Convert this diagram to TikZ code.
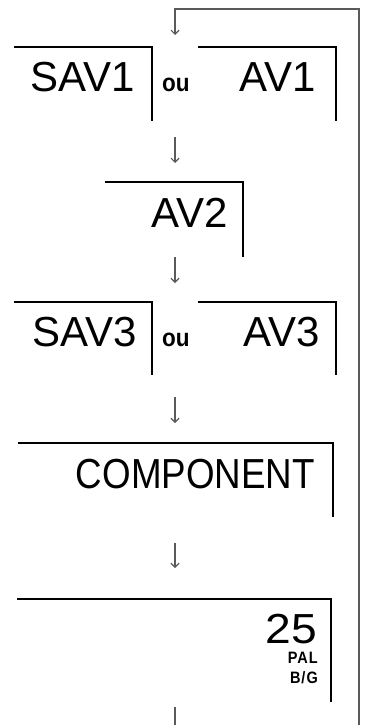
\documentclass[tikz,border=0pt]{standalone}
\usepackage{fontspec}
\setmainfont{Liberation Sans}
\newfontfamily\dispfont{Liberation Sans}
\newfontfamily\longfont[FakeStretch=0.875]{Liberation Sans}
\newfontfamily\numfont[FakeStretch=1.1]{Liberation Sans}
\newfontfamily\oufont[FakeStretch=0.9]{Liberation Sans}
\newfontfamily\tagfont[FakeStretch=0.88, LetterSpace=6]{Liberation Sans}
\usetikzlibrary{arrows.meta}
\definecolor{arrgray}{HTML}{5A5A5A}

\begin{document}
\begin{tikzpicture}[x=1pt, y=-1pt,
    frame/.style={line width=1.3pt, black},
    arr/.style={-{Straight Barb[length=4pt, width=8pt]}, line width=1.2pt, arrgray},
    ret/.style={line width=2pt, arrgray},
    disp/.style={inner sep=0pt, anchor=base east, font=\dispfont\fontsize{42}{42}\selectfont},
    ou/.style={inner sep=0pt, anchor=base west, font=\oufont\bfseries\fontsize{25}{25}\selectfont},
    tag/.style={inner sep=0pt, anchor=base east, font=\tagfont\bfseries\fontsize{16.5}{16.5}\selectfont}]
    \useasboundingbox (0,0) rectangle (366,725);
    % cadres des affichages
    \draw[frame] (14,47) -| (152,121);
    \draw[frame] (198,47) -| (336,121);
    \draw[frame] (105,182) -| (243,257);
    \draw[frame] (14,302) -| (152,375);
    \draw[frame] (198,302) -| (336,375);
    \draw[frame] (18,443) -| (333,517);
    \draw[frame] (17,599) -| (331,702);
    % textes
    \node[disp] (sav1) at (135,91) {SAV1};
    \node[ou] (ou1) at (162,91) {ou};
    \node[disp] (av1) at (316,91) {AV1};
    \node[disp] (av2) at (228,227) {AV2};
    \node[disp] (sav3) at (137,346) {SAV3};
    \node[ou] (ou2) at (162,346) {ou};
    \node[disp] (av3) at (320,346) {AV3};
    \node[disp, font=\longfont\fontsize{42}{42}\selectfont] (comp) at (315,488) {COMPONENT};
    \node[disp, font=\numfont\fontsize{42}{42}\selectfont] (n25) at (317,643) {25};
    \node[tag] (pal) at (318,663) {PAL};
    \node[tag] (bg) at (318,683) {B/G};
    % fleches
    \foreach \n/\ya/\yb in {1/137/163, 2/257/283, 3/397/423, 4/543/568} {
        \coordinate (s\n) at (175,\ya);
        \coordinate (e\n) at (175,\yb);
        \draw[arr] (s\n) -- (e\n);
    }
    % retour
    \coordinate (bot) at (175,707);
    \coordinate (top) at (175,35);
    \draw[ret] (bot) -- (175,726);
    \draw[ret] (359,726) -- (359,9) -| (175,12);
    \draw[arr] (175,9) -- (top);
\end{tikzpicture}
\end{document}
